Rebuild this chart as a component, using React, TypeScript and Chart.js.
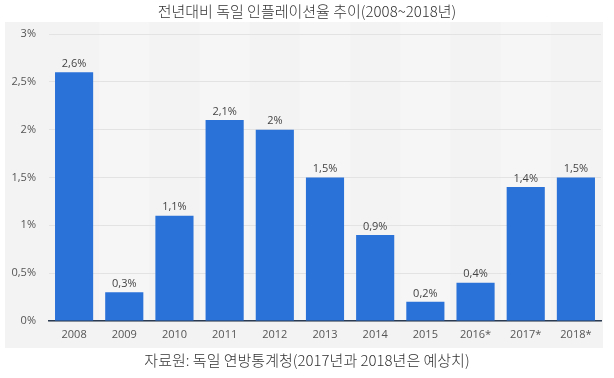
import React, { useEffect, useRef } from "react";
import { Chart, registerables } from "chart.js";

Chart.register(...registerables);

const categories = ["2008", "2009", "2010", "2011", "2012", "2013", "2014", "2015", "2016*", "2017*", "2018*"];
const inflation = [2.6, 0.3, 1.1, 2.1, 2.0, 1.5, 0.9, 0.2, 0.4, 1.4, 1.5];
const valueLabels = ["2,6%", "0,3%", "1,1%", "2,1%", "2%", "1,5%", "0,9%", "0,2%", "0,4%", "1,4%", "1,5%"];
const titleText = "전년대비 독일 인플레이션율 추이(2008~2018년)";
const sourceText = "자료원: 독일 연방통계청(2017년과 2018년은 예상치)";

const fmt = (v: number) => String(v).replace(".", ",") + "%";

const decorPlugin = {
  id: "decor",
  beforeDraw(chart: any) {
    const { ctx, chartArea, scales } = chart;
    ctx.save();
    ctx.fillStyle = "#ffffff";
    ctx.fillRect(0, 0, chart.width, chart.height);
    ctx.fillStyle = "#f3f3f3";
    ctx.fillRect(5, 22, 598, 326);
    // subtle alternating columns
    const xs = scales.x;
    const step = (chartArea.right - chartArea.left) / categories.length;
    for (let i = 0; i < categories.length; i++) {
      if (i % 2 === 1) {
        const cx = xs.getPixelForValue(i);
        ctx.fillStyle = "#f6f6f6";
        ctx.fillRect(cx - step / 2, 22, step, chartArea.bottom - 22);
      }
    }
    ctx.fillStyle = "#333333";
    ctx.font = "300 15px 'Noto Sans CJK KR'";
    ctx.textAlign = "center";
    ctx.textBaseline = "middle";
    ctx.fillText(titleText, 307, 11);
    ctx.fillText(sourceText, 307, 360);
    ctx.restore();
  },
  afterDatasetsDraw(chart: any) {
    const { ctx } = chart;
    const meta = chart.getDatasetMeta(0);
    ctx.save();
    ctx.fillStyle = "#444444";
    ctx.font = "11px 'Open Sans'";
    ctx.textAlign = "center";
    ctx.textBaseline = "bottom";
    meta.data.forEach((bar: any, i: number) => {
      ctx.fillText(valueLabels[i], bar.x, bar.y - 3);
    });
    ctx.restore();
  },
};

export default function App() {
  const ref = useRef<HTMLCanvasElement>(null);
  useEffect(() => {
    document.body.style.margin = "0";
    const chart = new Chart(ref.current!, {
      type: "bar",
      data: {
        labels: categories,
        datasets: [
          {
            data: inflation,
            backgroundColor: "#2a72d8",
            categoryPercentage: 0.76,
            barPercentage: 1,
          },
        ],
      },
      options: {
        animation: false,
        responsive: false,
        layout: { padding: { top: 34, right: 13, left: 0, bottom: 0 } },
        plugins: { legend: { display: false }, tooltip: { enabled: false } },
        scales: {
          x: {
            grid: { display: false, drawTicks: false },
            border: { display: true, color: "#2b3b52", width: 1.5 },
            ticks: { color: "#555", font: { family: "'Open Sans'", size: 11 }, padding: 7 },
            afterFit(scale: any) {
              scale.height = 57;
            },
          },
          y: {
            min: 0,
            max: 3,
            ticks: {
              stepSize: 0.5,
              color: "#555",
              font: { family: "'Open Sans'", size: 11 },
              padding: 13,
              callback: (v: any) => fmt(Number(v)),
            },
            grid: { color: "#e3e3e3", drawTicks: false, lineWidth: 1 },
            border: { display: false },
            afterFit(scale: any) {
              scale.width = 49;
            },
          },
        },
      },
      plugins: [decorPlugin],
    });
    return () => chart.destroy();
  }, []);
  return (
    <div style={{ width: 614, height: 378, background: "#fff" }}>
      <canvas ref={ref} width={614} height={378} />
    </div>
  );
}
